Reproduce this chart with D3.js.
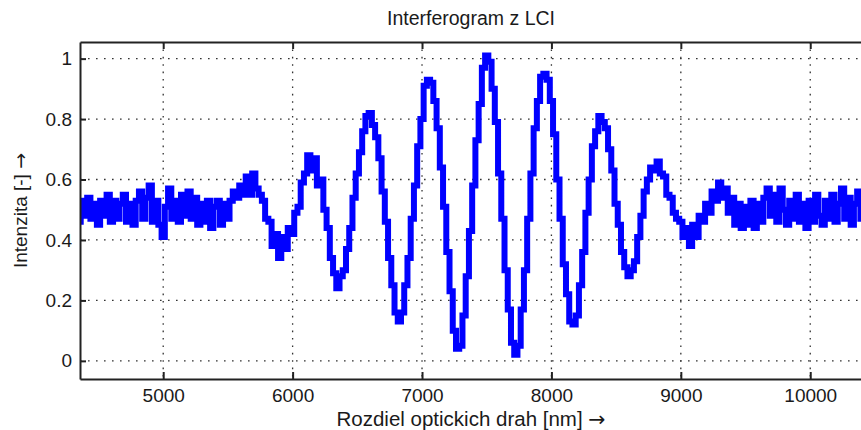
<!DOCTYPE html>
<html>
<head>
<meta charset="utf-8">
<script src="https://cdn.jsdelivr.net/npm/d3@7/dist/d3.min.js"></script>
<style>
  html, body { margin: 0; padding: 0; background: #fff; }
  svg { display: block; overflow: hidden; }
  text { font-family: "Liberation Sans", Arial, sans-serif; fill: #1a1a1a; }
  .arrow { font-family: "DejaVu Sans", sans-serif; }
</style>
</head>
<body>
<div id="chart"></div>
<script>
// measured intensity, sampled every 25 nm starting at 4350 nm
var startNm = 4350, stepNm = 25;
var intensity = [
  0.46, 0.53, 0.48, 0.54, 0.47, 0.52, 0.45, 0.53, 0.48, 0.55,
  0.46, 0.53, 0.47, 0.52, 0.55, 0.46, 0.52, 0.45, 0.53, 0.56,
  0.47, 0.54, 0.58, 0.46, 0.53, 0.45, 0.41, 0.51, 0.57, 0.47,
  0.53, 0.46, 0.55, 0.48, 0.56, 0.47, 0.54, 0.45, 0.52, 0.46,
  0.53, 0.44, 0.51, 0.53, 0.45, 0.52, 0.47, 0.53, 0.56, 0.54,
  0.58, 0.55, 0.61, 0.55, 0.62, 0.57, 0.55, 0.53, 0.47, 0.46,
  0.38, 0.42, 0.34, 0.41, 0.37, 0.44, 0.42, 0.49, 0.51, 0.59,
  0.62, 0.68, 0.63, 0.67, 0.58, 0.60, 0.50, 0.44, 0.34, 0.29,
  0.24, 0.28, 0.30, 0.37, 0.44, 0.54, 0.62, 0.69, 0.76, 0.81,
  0.82, 0.78, 0.74, 0.67, 0.56, 0.46, 0.34, 0.25, 0.16, 0.13,
  0.16, 0.25, 0.34, 0.47, 0.58, 0.71, 0.80, 0.91, 0.93, 0.92,
  0.86, 0.77, 0.64, 0.51, 0.36, 0.23, 0.10, 0.04, 0.05, 0.15,
  0.28, 0.43, 0.58, 0.73, 0.85, 0.97, 1.01, 0.99, 0.90, 0.79,
  0.62, 0.47, 0.30, 0.17, 0.06, 0.02, 0.05, 0.17, 0.30, 0.47,
  0.62, 0.77, 0.86, 0.94, 0.95, 0.93, 0.86, 0.75, 0.60, 0.47,
  0.32, 0.22, 0.13, 0.12, 0.15, 0.25, 0.36, 0.49, 0.60, 0.71,
  0.76, 0.81, 0.79, 0.77, 0.70, 0.63, 0.52, 0.45, 0.36, 0.31,
  0.28, 0.30, 0.33, 0.41, 0.48, 0.56, 0.60, 0.64, 0.63, 0.66,
  0.62, 0.61, 0.55, 0.54, 0.49, 0.47, 0.46, 0.41, 0.44, 0.38,
  0.45, 0.41, 0.48, 0.46, 0.52, 0.49, 0.56, 0.53, 0.59, 0.54,
  0.57, 0.49, 0.54, 0.45, 0.52, 0.44, 0.51, 0.45, 0.53, 0.44,
  0.52, 0.46, 0.54, 0.57, 0.48, 0.55, 0.46, 0.57, 0.50, 0.45,
  0.53, 0.47, 0.55, 0.46, 0.52, 0.44, 0.53, 0.46, 0.55, 0.48,
  0.45, 0.53, 0.47, 0.55, 0.46, 0.52, 0.57, 0.47, 0.54, 0.45,
  0.52, 0.56, 0.47, 0.53
];
var xTicks = [5000, 6000, 7000, 8000, 9000, 10000];
var yTicks = [0, 0.2, 0.4, 0.6, 0.8, 1];
var xDomain = [4357, 10400];
var yDomain = [-0.06, 1.055];
var title = 'Interferogram z LCI';
var xTitle = 'Rozdiel optickich drah [nm] ';
var yTitle = 'Intenzita [-] ';
var arrow = '\u2192';

var width = 861, height = 430;
var margin = {top: 42, right: -1, bottom: 51, left: 80};
var plotW = width - margin.left - margin.right,
    plotH = height - margin.top - margin.bottom;

var points = intensity.map(function(v, i) {
  return {x: startNm + i * stepNm, y: v};
});

var x = d3.scaleLinear().domain(xDomain).range([0, plotW]);
var y = d3.scaleLinear().domain(yDomain).range([plotH, 0]);

var svg = d3.select('#chart').append('svg')
    .attr('width', width)
    .attr('height', height);

svg.append('defs').append('clipPath')
    .attr('id', 'plot-clip')
  .append('rect')
    .attr('width', plotW)
    .attr('height', plotH);

var g = svg.append('g')
    .attr('transform', 'translate(' + margin.left + ',' + margin.top + ')');

// dotted grid
g.append('g').attr('class', 'grid')
  .selectAll('line')
  .data(xTicks)
  .enter().append('line')
    .attr('x1', function(d) { return x(d); })
    .attr('x2', function(d) { return x(d); })
    .attr('y1', 0)
    .attr('y2', plotH)
    .attr('stroke', '#333')
    .attr('stroke-width', 1.3)
    .attr('stroke-dasharray', '1.6,5.8');

g.append('g').attr('class', 'grid')
  .selectAll('line')
  .data(yTicks)
  .enter().append('line')
    .attr('x1', 0)
    .attr('x2', plotW)
    .attr('y1', function(d) { return y(d); })
    .attr('y2', function(d) { return y(d); })
    .attr('stroke', '#333')
    .attr('stroke-width', 1.3)
    .attr('stroke-dasharray', '1.6,6.4');

// signal (stepped, like the raw sampled trace)
var line = d3.line()
    .curve(d3.curveStep)
    .x(function(d) { return x(d.x); })
    .y(function(d) { return y(d.y); });

g.append('path')
    .datum(points)
    .attr('clip-path', 'url(#plot-clip)')
    .attr('fill', 'none')
    .attr('stroke', '#0000ff')
    .attr('stroke-width', 6)
    .attr('stroke-linejoin', 'miter')
    .attr('d', line);

// axes (ticks pointing inward, MATLAB style)
function styleAxis(sel) {
  sel.select('.domain').attr('stroke', '#222').attr('stroke-width', 2);
  sel.selectAll('.tick line').attr('stroke', '#222').attr('stroke-width', 2);
  sel.selectAll('.tick text').attr('font-size', 19).attr('fill', '#1a1a1a');
}

g.append('g')
    .attr('transform', 'translate(0,' + plotH + ')')
    .call(d3.axisBottom(x).tickValues(xTicks).tickSizeInner(-7).tickSizeOuter(0).tickPadding(10)
      .tickFormat(d3.format('d')))
    .call(styleAxis);

g.append('g')
    .call(d3.axisTop(x).tickValues(xTicks).tickSizeInner(-7).tickSizeOuter(0).tickFormat(''))
    .call(styleAxis);

g.append('g')
    .call(d3.axisLeft(y).tickValues(yTicks).tickSizeInner(-6).tickSizeOuter(0).tickPadding(8)
      .tickFormat(function(d) { return String(+d.toFixed(1)); }))
    .call(styleAxis);

// titles
svg.append('text')
    .attr('x', margin.left + plotW / 2)
    .attr('y', 25)
    .attr('text-anchor', 'middle')
    .attr('font-size', 19.5)
    .text(title);

var xt = svg.append('text')
    .attr('x', margin.left + plotW / 2)
    .attr('y', 426)
    .attr('text-anchor', 'middle')
    .attr('font-size', 20.5)
    .text(xTitle);
xt.append('tspan').attr('class', 'arrow').text(arrow);

var yt = svg.append('text')
    .attr('transform', 'translate(27,' + (margin.top + plotH / 2) + ') rotate(-90)')
    .attr('text-anchor', 'middle')
    .attr('font-size', 19)
    .text(yTitle);
yt.append('tspan').attr('class', 'arrow').text(arrow);
</script>
</body>
</html>
